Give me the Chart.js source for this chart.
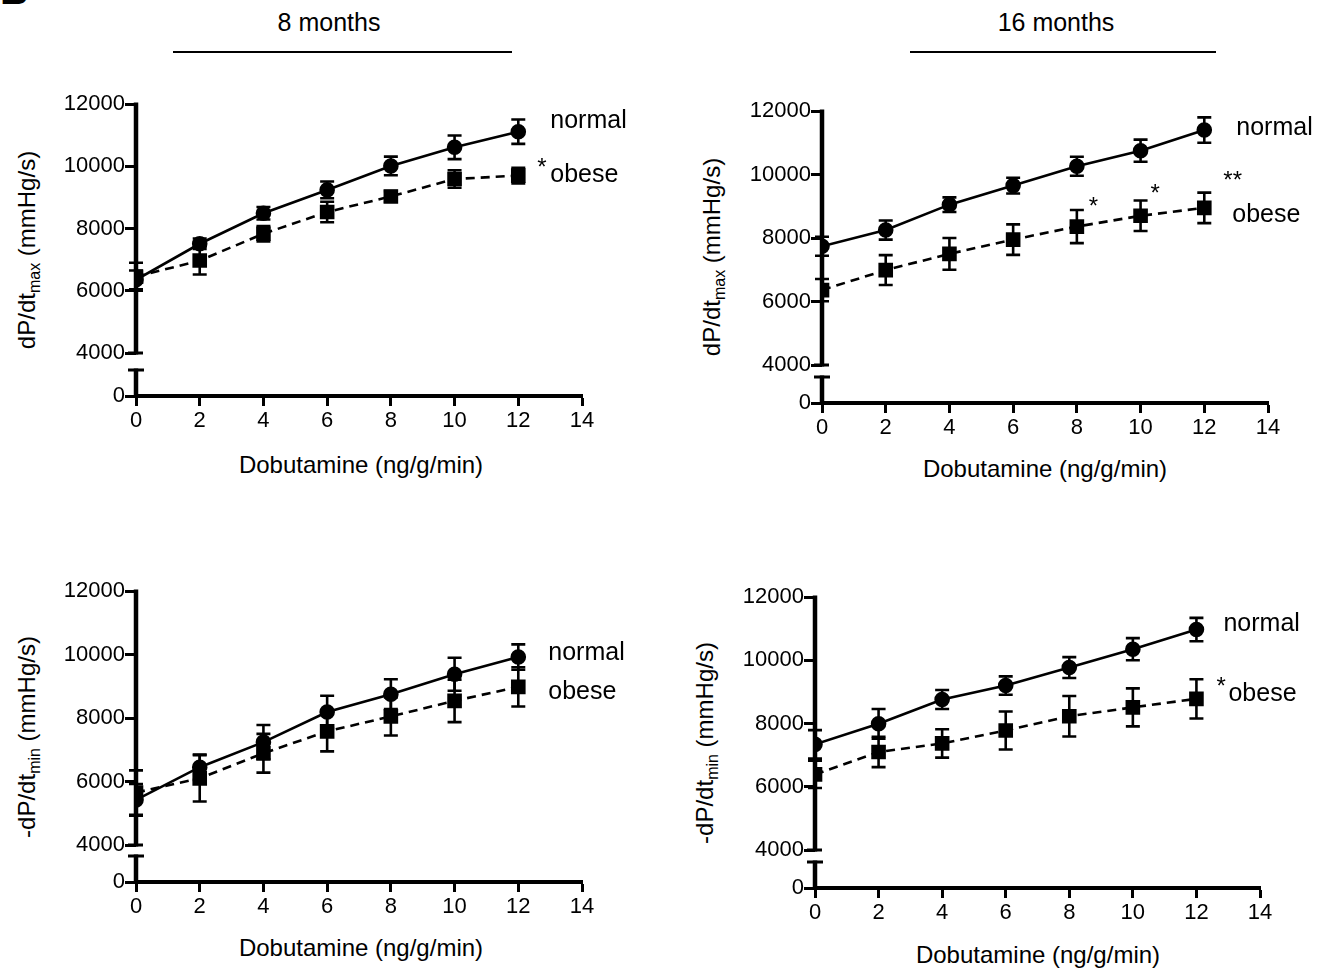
<!DOCTYPE html>
<html>
<head>
<meta charset="utf-8">
<script src="https://cdn.jsdelivr.net/npm/chart.js@4.4.1/dist/chart.umd.min.js"></script>
<style>
body { margin: 0; background: #fff; font-family: "Liberation Sans", Arial, sans-serif; }
#page { position: relative; width: 1329px; height: 969px; overflow: hidden; background: #fff; }
canvas { position: absolute; }
.txt { position: absolute; white-space: nowrap; color: #000; line-height: 1; }
.ytitle { transform: translate(-50%, -50%) rotate(-90deg); font-size: 24px; }
.xtitle { transform: translate(-50%, -50%); font-size: 24px; }
.head { transform: translate(-50%, -50%); font-size: 25px; }
.bar { position: absolute; height: 2px; background: #000; }
sub { font-size: 16px; vertical-align: -5px; line-height: 0; }
</style>
</head>
<body>
<div id="page">
  <div class="txt" style="left:0px;top:-30px;font-size:40px;font-weight:bold">B</div>
  <div class="txt head" style="left:329px;top:22px">8 months</div>
  <div class="bar" style="left:173px;top:51px;width:339px"></div>
  <div class="txt head" style="left:1056px;top:22px">16 months</div>
  <div class="bar" style="left:910px;top:51px;width:306px"></div>

  <div class="txt ytitle" style="left:27px;top:250px">dP/dt<sub>max</sub> (mmHg/s)</div>
  <div class="txt ytitle" style="left:712px;top:257px">dP/dt<sub>max</sub> (mmHg/s)</div>
  <div class="txt ytitle" style="left:27px;top:737px">-dP/dt<sub>min</sub> (mmHg/s)</div>
  <div class="txt ytitle" style="left:705px;top:743px">-dP/dt<sub>min</sub> (mmHg/s)</div>

  <div class="txt xtitle" style="left:361px;top:465px">Dobutamine (ng/g/min)</div>
  <div class="txt xtitle" style="left:1045px;top:469px">Dobutamine (ng/g/min)</div>
  <div class="txt xtitle" style="left:361px;top:948px">Dobutamine (ng/g/min)</div>
  <div class="txt xtitle" style="left:1038px;top:955px">Dobutamine (ng/g/min)</div>

  <canvas id="c1"></canvas>
  <canvas id="c2"></canvas>
  <canvas id="c3"></canvas>
  <canvas id="c4"></canvas>
</div>
<script>
var doses = [0, 2, 4, 6, 8, 10, 12]
var xTicks = [0, 2, 4, 6, 8, 10, 12, 14]
var yTicks = [4000, 6000, 8000, 10000, 12000]
var seriesNames = ['normal', 'obese']

// dP/dt max, 8 months
var max8Normal = [6350, 7510, 8490, 9240, 10010, 10610, 11110]
var max8NormalErr = [300, 170, 200, 270, 300, 380, 390]
var max8Obese = [6450, 6970, 7830, 8530, 9030, 9590, 9700]
var max8ObeseErr = [450, 450, 250, 330, 170, 280, 250]

// dP/dt max, 16 months
var max16Normal = [7740, 8250, 9050, 9650, 10260, 10750, 11400]
var max16NormalErr = [300, 300, 230, 250, 300, 350, 400]
var max16Obese = [6360, 6990, 7500, 7950, 8360, 8700, 8950]
var max16ObeseErr = [350, 470, 500, 480, 520, 480, 480]

// -dP/dt min, 8 months
var min8Normal = [5420, 6450, 7240, 8190, 8750, 9380, 9920]
var min8NormalErr = [500, 400, 540, 510, 470, 520, 400]
var min8Obese = [5650, 6100, 6890, 7580, 8050, 8540, 8980]
var min8ObeseErr = [700, 730, 610, 630, 600, 670, 620]

// -dP/dt min, 16 months
var min16Normal = [7340, 7990, 8760, 9200, 9770, 10350, 10970]
var min16NormalErr = [450, 470, 300, 290, 330, 350, 370]
var min16Obese = [6390, 7100, 7370, 7780, 8230, 8510, 8780]
var min16ObeseErr = [430, 480, 450, 600, 640, 600, 620]

// significance marks on the obese series (index of dose, text)
var max8Stars = [[6, '*']]
var max16Stars = [[4, '*'], [5, '*'], [6, '**']]
var min8Stars = []
var min16Stars = [[6, '*']]

var FONT = '"Liberation Sans", Arial, sans-serif'
var Y_W = 80, X_H = 40

// page boxes of each plot: left, right, top (12000), bottom (0), mid (4000)
var panels = [
  { id: 'c1', box: {l: 136, r: 582, t: 104, b: 396, mid: 353},
    normal: max8Normal, normalErr: max8NormalErr, obese: max8Obese, obeseErr: max8ObeseErr,
    stars: max8Stars, starOff: [[19, -14]], labOff: [[32, -10], [32, 0]] },
  { id: 'c2', box: {l: 822, r: 1268, t: 111, b: 403, mid: 365},
    normal: max16Normal, normalErr: max16NormalErr, obese: max16Obese, obeseErr: max16ObeseErr,
    stars: max16Stars, starOff: [[12, -26], [10, -28], [19, -33]], labOff: [[32, -2], [28, 8]] },
  { id: 'c3', box: {l: 136, r: 582, t: 591, b: 882, mid: 845},
    normal: min8Normal, normalErr: min8NormalErr, obese: min8Obese, obeseErr: min8ObeseErr,
    stars: min8Stars, starOff: [], labOff: [[30, -4], [30, 6]] },
  { id: 'c4', box: {l: 815, r: 1260, t: 597, b: 888, mid: 850},
    normal: min16Normal, normalErr: min16NormalErr, obese: min16Obese, obeseErr: min16ObeseErr,
    stars: min16Stars, starOff: [[20, -18]], labOff: [[27, -5], [32, -4]] }
]

function toPoints(vals) {
  return doses.map(function (d, i) { return {x: d, y: vals[i]} })
}

function plainLabel(v) { return String(v) }

// error bars, drawn through the chart scales
var errorBars = {
  id: 'errorBars',
  afterDatasetsDraw: function (chart, args, opts) {
    var ctx = chart.ctx, xs = chart.scales.x, ys = chart.scales.y
    ctx.save()
    ctx.strokeStyle = '#000'
    ctx.lineWidth = 2.6
    opts.errs.forEach(function (errs, di) {
      var vals = chart.data.datasets[di].data
      vals.forEach(function (p, i) {
        var px = xs.getPixelForValue(p.x)
        var hi = ys.getPixelForValue(p.y + errs[i])
        var lo = ys.getPixelForValue(p.y - errs[i])
        ctx.beginPath()
        ctx.moveTo(px, hi); ctx.lineTo(px, lo)
        ctx.moveTo(px - 7, hi); ctx.lineTo(px + 7, hi)
        ctx.moveTo(px - 7, lo); ctx.lineTo(px + 7, lo)
        ctx.stroke()
      })
    })
    ctx.restore()
  }
}

// broken y axis and the series labels
var decorations = {
  id: 'decorations',
  afterDraw: function (chart, args, opts) {
    var ctx = chart.ctx, a = chart.chartArea
    var xs = chart.scales.x, ys = chart.scales.y, y0 = chart.scales.y0
    var top = ys.getPixelForValue(12000), mid = ys.getPixelForValue(4000)
    var bot = y0.getPixelForValue(0), cap = bot - 26
    ctx.save()
    ctx.strokeStyle = '#000'
    ctx.lineWidth = 4.5
    ctx.beginPath()
    ctx.moveTo(a.left, top - 1.5); ctx.lineTo(a.left, mid + 1.5)
    ctx.moveTo(a.left, cap - 1.5); ctx.lineTo(a.left, bot)
    ctx.stroke()
    ctx.lineWidth = 3
    ctx.beginPath()
    ctx.moveTo(a.left - 8, mid); ctx.lineTo(a.left + 7, mid)
    ctx.moveTo(a.left - 8, cap); ctx.lineTo(a.left + 8, cap)
    ctx.stroke()

    ctx.fillStyle = '#000'
    ctx.font = '25px ' + FONT
    ctx.textAlign = 'left'
    ctx.textBaseline = 'alphabetic'
    var p = opts.panel
    var last = doses.length - 1
    ;[p.normal, p.obese].forEach(function (vals, k) {
      var px = xs.getPixelForValue(doses[last]) + p.labOff[k][0]
      var py = ys.getPixelForValue(vals[last]) + p.labOff[k][1] + 6.5
      ctx.fillText(seriesNames[k], px, py)
    })
    ctx.font = '24px ' + FONT
    p.stars.forEach(function (s, k) {
      var px = xs.getPixelForValue(doses[s[0]]) + p.starOff[k][0]
      var py = ys.getPixelForValue(p.obese[s[0]]) + p.starOff[k][1] + 13
      ctx.fillText(s[1], px, py)
    })
    ctx.restore()
  }
}

function makePanel(p) {
  var b = p.box
  var canvas = document.getElementById(p.id)
  var w = b.r - b.l + Y_W + 70
  var h = b.b - b.t + 20 + X_H
  canvas.width = w
  canvas.height = h
  canvas.style.left = (b.l - Y_W) + 'px'
  canvas.style.top = (b.t - 20) + 'px'
  canvas.style.width = w + 'px'
  canvas.style.height = h + 'px'

  var tickFont = {family: FONT, size: 22}
  var yGrid = {drawOnChartArea: false, drawTicks: true, tickLength: 11, tickWidth: 3, tickColor: '#000'}

  // left axes are stacked in reverse order: y0 is listed first so it ends up at the bottom
  return new Chart(canvas, {
    type: 'line',
    data: {
      datasets: [
        { label: 'normal', data: toPoints(p.normal), yAxisID: 'y',
          borderColor: '#000', backgroundColor: '#000', borderWidth: 2.6,
          pointStyle: 'circle', pointRadius: 6.5, pointHoverRadius: 6.5, tension: 0 },
        { label: 'obese', data: toPoints(p.obese), yAxisID: 'y',
          borderColor: '#000', backgroundColor: '#000', borderWidth: 2.6, borderDash: [9, 6],
          pointStyle: 'rect', pointRadius: 8.5, pointHoverRadius: 8.5, tension: 0 }
      ]
    },
    options: {
      responsive: false,
      animation: false,
      devicePixelRatio: 1,
      layout: { padding: {left: 0, top: 20, right: 70, bottom: 0} },
      plugins: {
        legend: {display: false},
        tooltip: {enabled: false},
        errorBars: {errs: [p.normalErr, p.obeseErr]},
        decorations: {panel: p}
      },
      scales: {
        x: {
          type: 'linear', min: 0, max: 14,
          afterBuildTicks: function (s) { s.ticks = xTicks.map(function (v) { return {value: v} }) },
          afterFit: function (s) { s.height = X_H },
          border: {display: true, color: '#000', width: 4},
          grid: {drawOnChartArea: false, drawTicks: true, tickLength: 10, tickWidth: 3, tickColor: '#000'},
          ticks: {color: '#000', font: tickFont, padding: 2, maxRotation: 0, callback: plainLabel}
        },
        y0: {
          type: 'linear', position: 'left', stack: 'yaxis', stackWeight: b.b - b.mid,
          min: 0, max: 1000,
          afterBuildTicks: function (s) { s.ticks = [{value: 0}] },
          afterFit: function (s) { s.width = Y_W },
          border: {display: false},
          grid: yGrid,
          ticks: {color: '#000', font: tickFont, padding: 0, callback: plainLabel}
        },
        y: {
          type: 'linear', position: 'left', stack: 'yaxis', stackWeight: b.mid - b.t,
          min: 4000, max: 12000,
          afterBuildTicks: function (s) { s.ticks = yTicks.map(function (v) { return {value: v} }) },
          afterFit: function (s) { s.width = Y_W },
          border: {display: false},
          grid: yGrid,
          ticks: {color: '#000', font: tickFont, padding: 0, callback: plainLabel}
        }
      }
    },
    plugins: [errorBars, decorations]
  })
}

panels.forEach(makePanel)
</script>
</body>
</html>
